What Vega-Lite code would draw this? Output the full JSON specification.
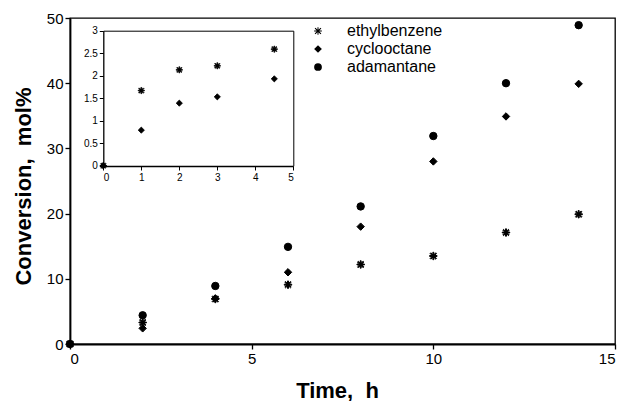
{
  "$schema": "https://vega.github.io/schema/vega-lite/v6.json",
  "width": 545,
  "height": 326,
  "autosize": {"type": "none"},
  "padding": {"left": 70, "top": 18, "right": 10, "bottom": 57},
  "background": "white",
  "config": {
    "font": "Liberation Sans",
    "view": {"stroke": "black", "strokeWidth": 1.3},
    "axis": {"grid": false, "domainColor": "black", "tickColor": "black", "labelColor": "black", "titleColor": "black", "labelFont": "Liberation Sans", "titleFont": "Liberation Sans"}
  },
  "datasets": {
    "main": [
      {"t": 0, "conv": 0, "compound": "ethylbenzene"},
      {"t": 2, "conv": 3.3, "compound": "ethylbenzene"},
      {"t": 4, "conv": 6.9, "compound": "ethylbenzene"},
      {"t": 6, "conv": 9.1, "compound": "ethylbenzene"},
      {"t": 8, "conv": 12.2, "compound": "ethylbenzene"},
      {"t": 10, "conv": 13.5, "compound": "ethylbenzene"},
      {"t": 12, "conv": 17.1, "compound": "ethylbenzene"},
      {"t": 14, "conv": 19.9, "compound": "ethylbenzene"},
      {"t": 0, "conv": 0, "compound": "cyclooctane"},
      {"t": 2, "conv": 2.4, "compound": "cyclooctane"},
      {"t": 4, "conv": 7.0, "compound": "cyclooctane"},
      {"t": 6, "conv": 11.0, "compound": "cyclooctane"},
      {"t": 8, "conv": 18.0, "compound": "cyclooctane"},
      {"t": 10, "conv": 28.0, "compound": "cyclooctane"},
      {"t": 12, "conv": 34.9, "compound": "cyclooctane"},
      {"t": 14, "conv": 39.9, "compound": "cyclooctane"},
      {"t": 0, "conv": 0, "compound": "adamantane"},
      {"t": 2, "conv": 4.4, "compound": "adamantane"},
      {"t": 4, "conv": 8.9, "compound": "adamantane"},
      {"t": 6, "conv": 14.9, "compound": "adamantane"},
      {"t": 8, "conv": 21.1, "compound": "adamantane"},
      {"t": 10, "conv": 31.9, "compound": "adamantane"},
      {"t": 12, "conv": 40.0, "compound": "adamantane"},
      {"t": 14, "conv": 48.9, "compound": "adamantane"}
    ],
    "inset": [
      {"t": 0, "conv": 0, "compound": "cyclooctane"},
      {"t": 1, "conv": 0.79, "compound": "cyclooctane"},
      {"t": 2, "conv": 1.39, "compound": "cyclooctane"},
      {"t": 3, "conv": 1.53, "compound": "cyclooctane"},
      {"t": 4.5, "conv": 1.93, "compound": "cyclooctane"},
      {"t": 0, "conv": 0, "compound": "ethylbenzene"},
      {"t": 1, "conv": 1.67, "compound": "ethylbenzene"},
      {"t": 2, "conv": 2.13, "compound": "ethylbenzene"},
      {"t": 3, "conv": 2.22, "compound": "ethylbenzene"},
      {"t": 4.5, "conv": 2.59, "compound": "ethylbenzene"}
    ]
  },
  "layer": [
    {
      "data": {"name": "main"},
      "mark": {"type": "point", "filled": true, "fill": "black", "stroke": "black", "strokeWidth": 1, "opacity": 1, "size": 55},
      "encoding": {
        "x": {"field": "t", "type": "quantitative", "scale": {"domain": [0, 15], "nice": false, "zero": false},
          "axis": {"orient": "bottom", "values": [0, 5, 10, 15], "tickSize": 5, "labelPadding": 2, "labelFontSize": 15, "domainWidth": 1.8, "tickWidth": 1.3,
            "title": "Time,\u00a0 h", "titleFontSize": 22, "titleFontWeight": "bold", "titleX": 267, "titleY": 53, "titleBaseline": "alphabetic", "titleAlign": "center"}},
        "y": {"field": "conv", "type": "quantitative", "scale": {"domain": [0, 50], "nice": false},
          "axis": {"orient": "left", "values": [0, 10, 20, 30, 40, 50], "tickSize": 5, "labelPadding": 2, "labelFontSize": 15, "domainWidth": 1.8, "tickWidth": 1.3,
            "title": "Conversion,\u00a0 mol%", "titleFontSize": 22, "titleFontWeight": "bold", "titleAngle": 270, "titleX": -40, "titleY": 168, "titleBaseline": "alphabetic", "titleAlign": "center"}},
        "shape": {"field": "compound", "type": "nominal",
          "scale": {"domain": ["ethylbenzene", "cyclooctane", "adamantane"], "range": ["M-1,-0.13L1,-0.13L1,0.13L-1,0.13ZM-0.13,-1L0.13,-1L0.13,1L-0.13,1ZM-0.66,-0.86L0.86,0.66L0.66,0.86L-0.86,-0.66ZM-0.86,0.66L0.66,-0.86L0.86,-0.66L-0.66,0.86Z", "diamond", "circle"]},
          "legend": {"title": null, "orient": "none", "legendX": 240, "legendY": 5, "padding": 0, "labelFontSize": 16, "labelColor": "black", "labelOffset": 21, "rowPadding": 2, "symbolSize": 60, "symbolFillColor": "black", "symbolStrokeColor": "black", "symbolStrokeWidth": 1, "symbolOpacity": 1,
            "encode": {"symbols": {"update": {"stroke": {"value": "black"}, "fill": {"value": "black"}, "strokeWidth": {"value": 1}, "opacity": {"value": 1}}}}}}
      }
    },
    {
      "data": {"name": "inset"},
      "mark": {"type": "point", "filled": true, "fill": "black", "stroke": "black", "strokeWidth": 0.8, "opacity": 1, "size": 38},
      "encoding": {
        "x": {"field": "t", "type": "quantitative", "scale": {"domain": [0, 5], "nice": false, "zero": false, "range": [33.3, 223.3]},
          "axis": {"orient": "bottom", "offset": -178, "values": [0, 1, 2, 3, 4, 5], "tickSize": 4, "labelPadding": 2, "labelFontSize": 10, "domainWidth": 1.3, "tickWidth": 1, "title": null}},
        "y": {"field": "conv", "type": "quantitative", "scale": {"domain": [0, 3], "nice": false, "range": [147.7, 12.7]},
          "axis": {"orient": "left", "offset": -33.3, "values": [0, 0.5, 1, 1.5, 2, 2.5, 3], "format": "~g", "tickSize": 4, "labelPadding": 2, "labelFontSize": 10, "domainWidth": 1.3, "tickWidth": 1, "title": null}},
        "shape": {"field": "compound", "type": "nominal"}
      }
    },
    {
      "data": {"name": "inset"},
      "mark": {"type": "point", "opacity": 0},
      "encoding": {
        "x": {"field": "t", "type": "quantitative", "scale": {"domain": [0, 5], "nice": false, "zero": false, "range": [33.3, 223.3]},
          "axis": {"orient": "top", "offset": -12.7, "labels": false, "ticks": false, "domainWidth": 1, "title": null}},
        "y": {"field": "conv", "type": "quantitative", "scale": {"domain": [0, 3], "nice": false, "range": [147.7, 12.7]},
          "axis": {"orient": "right", "offset": -321.7, "labels": false, "ticks": false, "domainWidth": 1, "title": null}}
      }
    }
  ],
  "resolve": {"scale": {"x": "independent", "y": "independent"}, "axis": {"x": "independent", "y": "independent"}}
}
